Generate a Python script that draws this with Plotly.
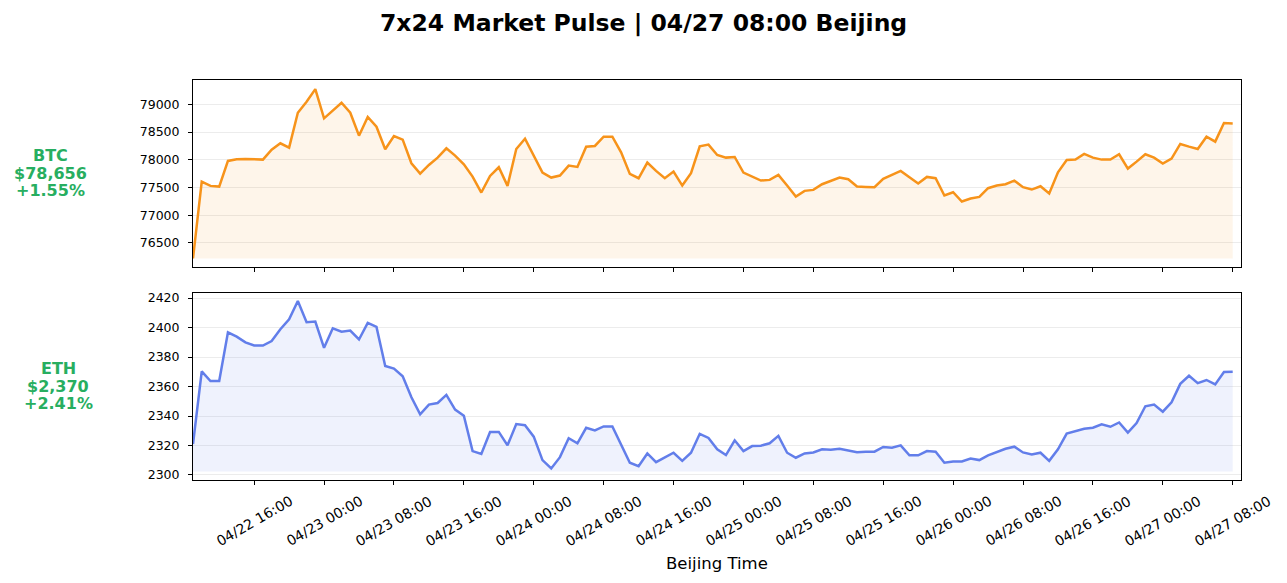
import pandas as pd
import plotly.graph_objects as go

# ---- data (hourly, Beijing time) ----
start_time = "2025-04-22 09:00"
n_points = 120
times = pd.date_range(start_time, periods=n_points, freq="h")

btc_prices = [
    76221, 77608, 77530, 77518, 77980, 78010, 78016, 78004, 78004, 78184,
    78298, 78220, 78850, 79048, 79276, 78748, 78898, 79030, 78850, 78436,
    78772, 78598, 78190, 78430, 78364, 77938, 77752, 77908, 78040, 78208,
    78076, 77920, 77698, 77410, 77710, 77866, 77530, 78196, 78382, 78088,
    77770, 77680, 77716, 77896, 77872, 78238, 78250, 78418, 78418, 78136,
    77746, 77668, 77950, 77800, 77668, 77788, 77536, 77758, 78244, 78274,
    78088, 78040, 78052, 77770, 77692, 77626, 77638, 77728, 77536, 77338,
    77440, 77458, 77560, 77620, 77680, 77650, 77518, 77512, 77506, 77656,
    77734, 77800, 77686, 77572, 77692, 77668, 77356, 77416, 77248, 77302,
    77332, 77488, 77536, 77560, 77626, 77506, 77464, 77524, 77392, 77776,
    77998, 78004, 78106, 78040, 78004, 78004, 78100, 77842, 77968, 78100,
    78040, 77932, 78022, 78286, 78238, 78196, 78418, 78328, 78664, 78656,
]

eth_prices = [
    2321.0, 2370.3, 2363.7, 2363.7, 2396.7, 2393.8, 2389.9, 2387.8, 2387.8, 2390.8,
    2398.8, 2405.6, 2418.0, 2403.6, 2404.0, 2386.2, 2399.5, 2397.2, 2397.9, 2391.9,
    2403.1, 2400.4, 2373.9, 2372.1, 2366.9, 2352.7, 2341.1, 2347.7, 2348.8, 2354.3,
    2344.3, 2340.2, 2316.2, 2314.2, 2329.2, 2329.2, 2320.1, 2334.5, 2333.8, 2326.0,
    2310.1, 2304.4, 2312.1, 2324.9, 2321.5, 2332.0, 2330.2, 2332.9, 2332.9, 2320.1,
    2308.3, 2306.0, 2314.6, 2308.7, 2311.7, 2315.1, 2309.6, 2315.1, 2327.9, 2325.1,
    2317.4, 2313.5, 2323.5, 2316.2, 2319.6, 2319.9, 2321.5, 2326.5, 2315.1, 2311.7,
    2314.6, 2315.3, 2317.4, 2317.1, 2317.8, 2316.4, 2315.5, 2315.8, 2315.8, 2319.0,
    2318.5, 2320.1, 2313.3, 2313.3, 2316.2, 2315.8, 2308.3, 2309.2, 2309.2, 2311.2,
    2310.1, 2313.3, 2315.5, 2317.8, 2319.2, 2315.3, 2313.9, 2315.1, 2309.6, 2317.4,
    2328.1, 2329.9, 2331.3, 2332.0, 2334.3, 2332.7, 2335.6, 2328.8, 2335.2, 2346.6,
    2347.7, 2342.9, 2349.3, 2361.8, 2367.3, 2362.3, 2364.4, 2361.4, 2369.8, 2370.0,
]

btc_fill_floor = 76221
eth_fill_floor = 2302.3

btc_label = ["BTC", "$78,656", "+1.55%"]
eth_label = ["ETH", "$2,370", "+2.41%"]

btc_ticks = [76500, 77000, 77500, 78000, 78500, 79000]
eth_ticks = [2300, 2320, 2340, 2360, 2380, 2400, 2420]
x_ticks = pd.date_range("2025-04-22 16:00", "2025-04-27 08:00", freq="8h")

title_text = "7x24 Market Pulse | 04/27 08:00 Beijing"
x_title = "Beijing Time"

# ---- styling ----
BTC_COLOR = "#f7931a"
ETH_COLOR = "#627eea"
GREEN = "#27ae60"
FONT = "DejaVu Sans"
OFF = 8                      # page body margin
W, H = 1287 - 2 * OFF, 583 - 2 * OFF
L, R, T, B = 193 - OFF, 1241 - OFF, 80 - OFF, 480 - OFF   # plot area (figure px)

def py(page_y):
    return (B - (page_y - OFF)) / (B - T)

def px(page_x):
    return (page_x - OFF - L) / (R - L)

fig = go.Figure()

def add_series(values, floor, color, fillcolor, xaxis, yaxis):
    fig.add_trace(go.Scatter(x=times, y=[floor] * len(values), mode="lines",
                             line=dict(width=0), hoverinfo="skip",
                             showlegend=False, xaxis=xaxis, yaxis=yaxis))
    fig.add_trace(go.Scatter(x=times, y=values, mode="lines",
                             line=dict(color=color, width=2.5),
                             fill="tonexty", fillcolor=fillcolor,
                             showlegend=False, xaxis=xaxis, yaxis=yaxis))

add_series(btc_prices, btc_fill_floor, BTC_COLOR, "rgba(247,147,26,0.09)", "x2", "y")
add_series(eth_prices, eth_fill_floor, ETH_COLOR, "rgba(98,126,234,0.10)", "x", "y2")

x_end = times[-1] + pd.Timedelta(minutes=57)

common_axis = dict(showline=True, linecolor="black", linewidth=1, mirror=True,
                   ticks="outside", ticklen=4, tickcolor="black", tickwidth=1,
                   zeroline=False, automargin=False)

fig.update_layout(
    width=W, height=H,
    margin=dict(l=L, r=W - R, t=T, b=H - B, autoexpand=False),
    paper_bgcolor="white", plot_bgcolor="white",
    font=dict(family=FONT, color="black", size=13),
    xaxis=dict(type="date", range=[times[0], x_end], anchor="y2",
               tickvals=x_ticks, showticklabels=False, showgrid=False,
               **common_axis),
    xaxis2=dict(type="date", range=[times[0], x_end], anchor="y",
                matches="x", tickvals=x_ticks, showticklabels=False,
                showgrid=False, **common_axis),
    yaxis=dict(domain=[py(267), 1.0], range=[76067, 79440],
               tickvals=btc_ticks, tickformat="d", ticklabelstandoff=6,
               showgrid=True, gridcolor="#ececec", gridwidth=1,
               tickfont=dict(size=12.5), anchor="x2", **common_axis),
    yaxis2=dict(domain=[0.0, py(293)], range=[2296.6, 2423.4],
                tickvals=eth_ticks, tickformat="d", ticklabelstandoff=6,
                showgrid=True, gridcolor="#ececec", gridwidth=1,
                tickfont=dict(size=12.5), anchor="x", **common_axis),
)

annotations = []
def side_label(lines, cx, cy_list):
    for txt, cy in zip(lines, cy_list):
        annotations.append(dict(
            text=txt, xref="paper", yref="paper", x=px(cx), y=py(cy),
            xanchor="center", yanchor="middle", showarrow=False,
            font=dict(family=FONT, size=16, color=GREEN, weight="bold")))

side_label(btc_label, 50, [156, 173, 190])
side_label(eth_label, 58, [368, 386, 403])

# rotated date tick labels, centred under each tick
for t in x_ticks:
    annotations.append(dict(text=t.strftime("%m/%d %H:%M"), xref="x", yref="paper",
                            x=t, y=py(521), xanchor="center", yanchor="middle",
                            textangle=-30, showarrow=False,
                            font=dict(family=FONT, size=14, color="black")))

annotations.append(dict(text=x_title, xref="paper", yref="paper",
                        x=px(717), y=py(563), xanchor="center",
                        yanchor="middle", showarrow=False,
                        font=dict(family=FONT, size=16.5, color="black")))
annotations.append(dict(text=title_text, xref="paper", yref="paper",
                        x=px(643), y=py(23),
                        xanchor="center", yanchor="middle", showarrow=False,
                        font=dict(family=FONT, size=23.5, color="black",
                                  weight="bold")))
fig.update_layout(annotations=annotations)

fig.write_html("out.html")
